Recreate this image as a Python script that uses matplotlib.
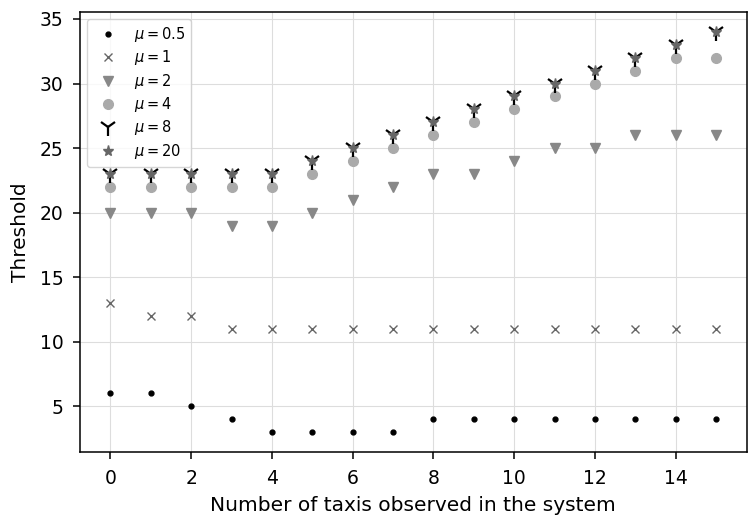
import numpy as np
import matplotlib
matplotlib.use("Agg")
from matplotlib import pyplot as plt

taxis = np.arange(16)
mu_05 = [6, 6, 5, 4, 3, 3, 3, 3, 4, 4, 4, 4, 4, 4, 4, 4]
mu_1 = [13, 12, 12, 11, 11, 11, 11, 11, 11, 11, 11, 11, 11, 11, 11, 11]
mu_2 = [20, 20, 20, 19, 19, 20, 21, 22, 23, 23, 24, 25, 25, 26, 26, 26]
mu_4 = [22, 22, 22, 22, 22, 23, 24, 25, 26, 27, 28, 29, 30, 31, 32, 32]
mu_8 = [23, 23, 23, 23, 23, 24, 25, 26, 27, 28, 29, 30, 31, 32, 33, 34]
mu_20 = [23, 23, 23, 23, 23, 24, 25, 26, 27, 28, 29, 30, 31, 32, 33, 34]

fig, ax = plt.subplots(figsize=(7.48, 5.15), dpi=100)
ax.grid(True, color="#dddddd", linewidth=0.8, zorder=0)
ax.set_axisbelow(True)

ax.plot(taxis, mu_05, ".", color="black", markersize=7, label=r"$\mu = 0.5$")
ax.plot(taxis, mu_1, "x", color="#666666", label=r"$\mu = 1$")
ax.plot(taxis, mu_2, "v", color="#888888", markersize=7, label=r"$\mu = 2$")
ax.plot(taxis, mu_4, "o", color="#aaaaaa", markersize=7, label=r"$\mu = 4$")
ax.plot(taxis, mu_8, "1", color="black", markersize=13, markeredgewidth=1.6, label=r"$\mu = 8$")
ax.plot(taxis, mu_20, "*", color="#666666", markersize=8, label=r"$\mu = 20$")

ax.set_xlabel("Number of taxis observed in the system", fontsize=14.5, labelpad=6)
ax.set_ylabel("Threshold", fontsize=14.5, labelpad=7)
ax.tick_params(labelsize=13.5, width=1.1, length=5, pad=7)
for s in ax.spines.values():
    s.set_linewidth(1.1)
ax.legend(loc="upper left", fontsize=10.5, labelspacing=0.3, borderaxespad=0.5)

fig.subplots_adjust(left=0.107, right=0.998, top=0.977, bottom=0.122)
fig.savefig("out.png", dpi=100)
